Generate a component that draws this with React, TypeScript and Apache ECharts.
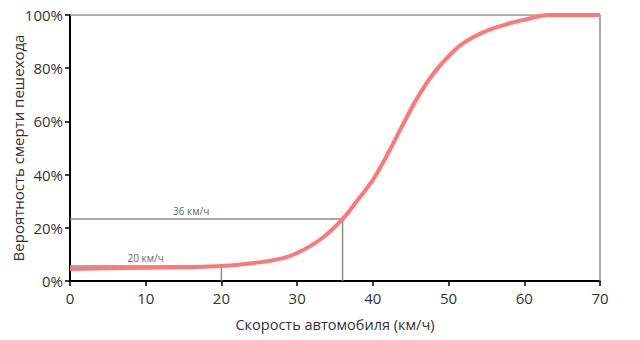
import React, { useEffect, useRef } from "react";
import * as echarts from "echarts";

const speeds = [0, 5, 10, 15, 20, 25, 28, 30, 33, 36, 38, 40, 42, 44, 46, 48, 50, 52, 55, 58, 60, 62, 63, 70];
const risk = [4.5, 4.8, 5.0, 5.2, 5.6, 7.0, 8.5, 10.5, 15.5, 23.3, 30.5, 38, 48, 59, 69.5, 78, 84.5, 89.5, 94, 96.8, 98.2, 99.5, 100, 100];

const guideSpeeds = [20, 36];
const guideRisks = [5.6, 23.3];
const guideLabels = ["20 км/ч", "36 км/ч"];
const guideLabelX = [10, 16];

const xTicks = [0, 10, 20, 30, 40, 50, 60, 70];
const yTicks = [0, 20, 40, 60, 80, 100];

const FONT = "'Open Sans', 'Noto Sans', sans-serif";

export default function App() {
  const ref = useRef<HTMLDivElement>(null);
  useEffect(() => {
    const chart = echarts.init(ref.current!, undefined, { renderer: "svg" });
    const gray = "#8c8c8c";
    const guideSeries: any[] = guideSpeeds.map((s, i) => ({
      type: "line",
      data: [[0, guideRisks[i]], [s, guideRisks[i]], [s, 0]],
      symbol: "none",
      lineStyle: { color: gray, width: 1.5 },
      z: 2,
    }));
    chart.setOption({
      animation: false,
      grid: { left: 70, right: 40, top: 15, bottom: 59, containLabel: false, outerBoundsMode: "none" },
      xAxis: {
        type: "value",
        min: xTicks[0],
        max: xTicks[xTicks.length - 1],
        interval: 10,
        name: "Скорость автомобиля (км/ч)",
        nameLocation: "middle",
        nameGap: 36,
        nameMoveOverlap: false,
        nameTextStyle: { fontFamily: FONT, fontSize: 14.5, color: "#333" },
        axisLine: { show: true, onZero: false, lineStyle: { color: "#000", width: 2 } },
        axisTick: { show: true, length: 5, lineStyle: { color: "#000", width: 1.5 } },
        axisLabel: { fontFamily: FONT, fontSize: 15, color: "#333", margin: 9 },
        splitLine: { show: false },
      },
      yAxis: {
        type: "value",
        min: yTicks[0],
        max: yTicks[yTicks.length - 1],
        interval: 20,
        name: "Вероятность смерти пешехода",
        nameLocation: "middle",
        nameGap: 45,
        nameMoveOverlap: false,
        nameTextStyle: { fontFamily: FONT, fontSize: 15, color: "#333" },
        axisLine: { show: true, lineStyle: { color: "#000", width: 2 } },
        axisTick: { show: true, length: 5, lineStyle: { color: "#000", width: 1.5 } },
        axisLabel: { fontFamily: FONT, fontSize: 15, color: "#333", margin: 7, formatter: "{value}%" },
        splitLine: { show: false },
      },
      series: [
        {
          type: "line",
          data: [[0, 100], [70, 100], [70, 0]],
          symbol: "none",
          lineStyle: { color: gray, width: 1.5 },
          z: 2,
        },
        ...guideSeries,
        {
          type: "scatter",
          data: guideLabelX.map((x, i) => [x, guideRisks[i]]),
          symbolSize: 0,
          z: 4,
          label: {
            show: true,
            position: "top",
            distance: 3,
            fontFamily: FONT,
            fontSize: 10,
            color: "#333",
            formatter: (p: any) => guideLabels[p.dataIndex],
          },
        },
        {
          type: "line",
          data: speeds.map((s, i) => [s, risk[i]]),
          smooth: 0.4,
          symbol: "none",
          lineStyle: { color: "#ff7878", width: 4 },
          z: 3,
        },
      ],
    });
    return () => chart.dispose();
  }, []);
  return <div ref={ref} style={{ position: "absolute", left: 0, top: 0, width: 640, height: 340 }} />;
}
